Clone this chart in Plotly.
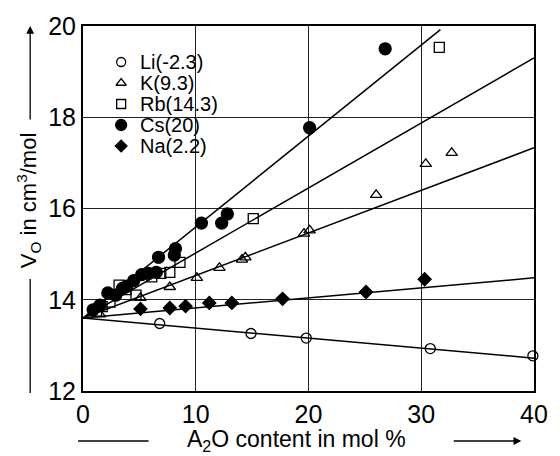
import plotly.graph_objects as go

# ---- data ----
names = ["Li(-2.3)", "K(9.3)", "Rb(14.3)", "Cs(20)", "Na(2.2)"]
symbols = ["circle-open", "triangle-up-open", "square-open", "circle", "diamond"]
marker_sizes = [10, 10, 10, 12, 10]

li_x = [6.8, 14.9, 19.8, 30.8, 39.9]
li_y = [13.48, 13.26, 13.16, 12.93, 12.77]

k_x = [1.5, 5.1, 7.7, 10.1, 12.1, 14.1, 14.4, 19.6, 20.1, 26.0, 30.4, 32.7]
k_y = [13.68, 14.04, 14.28, 14.48, 14.70, 14.88, 14.93, 15.45, 15.52, 16.30, 16.98, 17.22]

rb_x = [1.2, 1.7, 2.4, 3.2, 3.8, 4.7, 6.1, 6.9, 7.7, 8.6, 15.1, 31.6]
rb_y = [13.75, 13.85, 13.95, 14.32, 14.22, 14.10, 14.50, 14.58, 14.60, 14.82, 15.78, 19.53]

cs_x = [0.9, 1.5, 2.2, 2.9, 3.5, 3.9, 4.5, 5.2, 5.8, 6.5, 6.7, 8.1, 8.2, 10.5, 12.3, 12.8, 20.1, 26.8]
cs_y = [13.78, 13.88, 14.15, 14.10, 14.25, 14.30, 14.42, 14.55, 14.58, 14.60, 14.93, 14.98, 15.12, 15.68, 15.68, 15.88, 17.77, 19.50]

na_x = [5.1, 7.7, 9.1, 11.2, 13.2, 17.7, 25.1, 30.3]
na_y = [13.80, 13.82, 13.86, 13.93, 13.93, 14.02, 14.17, 14.45]

series_x = [li_x, k_x, rb_x, cs_x, na_x]
series_y = [li_y, k_y, rb_y, cs_y, na_y]

# fitted lines: common start, individual end points
fit_start_x = 0.0
fit_start_y = 13.6
fit_end_x = [40.0, 40.0, 40.0, 31.7, 40.0]
fit_end_y = [12.72, 17.33, 19.30, 19.92, 14.48]

x_ticks = [0, 10, 20, 30, 40]
y_ticks = [12, 14, 16, 18, 20]

FONT = "Liberation Sans, Arial, sans-serif"

W, H = 560, 456
L, R, T, B = 83, 16, 26, 65
pw, ph = W - L - R, H - T - B

def px(xp):
    return (xp - L) / pw

def py(yp):
    return (H - B - yp) / ph

fig = go.Figure()

for i in range(len(names)):
    fig.add_trace(go.Scatter(
        x=[fit_start_x, fit_end_x[i]], y=[fit_start_y, fit_end_y[i]],
        mode="lines", line=dict(color="black", width=1.5),
        showlegend=False, hoverinfo="skip"))

for i in range(len(names)):
    fig.add_trace(go.Scatter(
        x=series_x[i], y=series_y[i], mode="markers", name=names[i],
        cliponaxis=False, showlegend=False,
        marker=dict(symbol=symbols[i], size=marker_sizes[i], color="black",
                    line=dict(color="black", width=1.3))))

legend_sym_x = 122
legend_txt_x = 139
legend_rows_y = [62, 83, 104, 125, 146]
annotations = []
for i in range(len(names)):
    fig.add_trace(go.Scatter(
        x=[px(legend_sym_x)], y=[py(legend_rows_y[i])], xaxis="x2", yaxis="y2",
        mode="markers", showlegend=False, hoverinfo="skip", cliponaxis=False,
        marker=dict(symbol=symbols[i], size=9 if i != 3 else 11, color="black",
                    line=dict(color="black", width=1.3))))
    annotations.append(dict(
        text=names[i], x=px(legend_txt_x), y=py(legend_rows_y[i]), xref="paper", yref="paper",
        xanchor="left", yanchor="middle", showarrow=False,
        font=dict(family=FONT, size=20, color="black")))

axis_common = dict(showgrid=True, gridcolor="#222", gridwidth=1, showline=True, mirror=True,
                   linecolor="black", linewidth=2, zeroline=False, ticks="",
                   tickfont=dict(family=FONT, size=25, color="black"))
fig.update_layout(
    xaxis=dict(range=[0, 40], tickvals=x_ticks, **axis_common),
    yaxis=dict(range=[12, 20], tickvals=y_ticks, **axis_common),
    xaxis2=dict(range=[0, 1], overlaying="x", visible=False),
    yaxis2=dict(range=[0, 1], overlaying="y", visible=False),
)

annotations += [
    dict(text="A<sub>2</sub>O content in mol %", x=px(301), y=py(440), xref="paper", yref="paper",
         showarrow=False, font=dict(family=FONT, size=23, color="black"), xanchor="center", yanchor="middle"),
    dict(text="V<sub>O</sub> in cm<sup>3</sup>/mol", x=px(27), y=py(201), xref="paper", yref="paper",
         showarrow=False, textangle=-90, font=dict(family=FONT, size=22, color="black"),
         xanchor="center", yanchor="middle"),
    dict(x=px(531), y=py(441), ax=-69, ay=0, xref="paper", yref="paper",
         showarrow=True, arrowhead=2, arrowsize=1.2,
         arrowwidth=1.3, arrowcolor="black", text=""),
    dict(x=px(29), y=py(26), ax=0, ay=95, xref="paper", yref="paper",
         showarrow=True, arrowhead=2, arrowsize=1.2,
         arrowwidth=1.3, arrowcolor="black", text=""),
]

shapes = [
    dict(type="line", xref="paper", yref="paper", x0=px(78), x1=px(150), y0=py(441), y1=py(441),
         line=dict(color="black", width=1.3)),
    dict(type="line", xref="paper", yref="paper", x0=px(29), x1=px(29), y0=py(279), y1=py(393),
         line=dict(color="black", width=1.3)),
]

fig.update_layout(
    width=W, height=H, margin=dict(l=L, r=R, t=T, b=B),
    paper_bgcolor="white", plot_bgcolor="white",
    annotations=annotations, shapes=shapes, showlegend=False,
)

fig.write_html("out.html")
